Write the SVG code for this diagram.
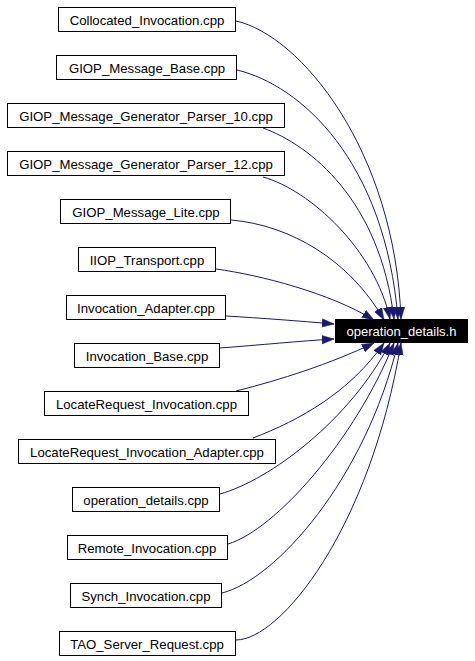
<svg xmlns="http://www.w3.org/2000/svg" width="475" height="661" viewBox="0 0 475 661">
<style>
.n rect{fill:#fff;stroke:#000;stroke-width:1}
.n text{font-family:"Liberation Sans",Arial,sans-serif;font-size:13.2px;text-anchor:middle;fill:#000}
#main rect{fill:#000;stroke:#000}
#main text{fill:#fff;font-family:"Liberation Sans",Arial,sans-serif;font-size:13px;text-anchor:middle}
#edges path{fill:none;stroke:#191970;stroke-width:1;marker-end:url(#arr)}
</style>
<defs>
<marker id="arr" markerUnits="userSpaceOnUse" markerWidth="12" markerHeight="10" viewBox="0 0 12 10" refX="12" refY="5" orient="auto">
<path d="M0,0.8 L12,5 L0,9.2 Z" fill="#191970" stroke="#191970" stroke-width="0.5"/>
</marker>
</defs>
<rect width="475" height="661" fill="#fff"/>
<g id="edges">
<path d="M236,21 C300,35 395,150 401,319"/>
<path d="M237,70 C300,85 385,160 398,319"/>
<path d="M263,128 C310,145 380,200 394,319"/>
<path d="M263,177 C310,190 375,250 390,319"/>
<path d="M231,220 C290,225 350,260 384,320"/>
<path d="M216,269 C260,275 330,293 374,320"/>
<path d="M226,316 C260,318 300,321 334,324"/>
<path d="M220,348 C260,345 300,341 334,339"/>
<path d="M236,391 C280,380 330,364 374,343"/>
<path d="M253,438 C300,420 350,392 384,343"/>
<path d="M220,494 C270,480 350,420 390,343"/>
<path d="M228,544 C275,530 355,440 394,343"/>
<path d="M222,593 C275,580 365,480 398,343"/>
<path d="M236,640 C280,640 370,530 401,343"/>
</g>
<g id="main"><rect x="335.5" y="319.5" width="132" height="23"/><text x="401.5" y="336">operation_details.h</text></g>
<g id="n1" class="n"><rect x="58.5" y="7.5" width="177" height="24"/><text x="147" y="24.5">Collocated_Invocation.cpp</text></g>
<g id="n2" class="n"><rect x="56.5" y="55.5" width="180" height="24"/><text x="147" y="72.5">GIOP_Message_Base.cpp</text></g>
<g id="n3" class="n"><rect x="7.5" y="103.5" width="277" height="24"/><text x="146" y="120.5">GIOP_Message_Generator_Parser_10.cpp</text></g>
<g id="n4" class="n"><rect x="7.5" y="151.5" width="277" height="24"/><text x="146" y="168.5">GIOP_Message_Generator_Parser_12.cpp</text></g>
<g id="n5" class="n"><rect x="60.5" y="199.5" width="170" height="24"/><text x="146" y="216.5">GIOP_Message_Lite.cpp</text></g>
<g id="n6" class="n"><rect x="78.5" y="247.5" width="137" height="24"/><text x="147" y="264.5">IIOP_Transport.cpp</text></g>
<g id="n7" class="n"><rect x="66.5" y="295.5" width="159" height="24"/><text x="146" y="312.5">Invocation_Adapter.cpp</text></g>
<g id="n8" class="n"><rect x="74.5" y="343.5" width="145" height="24"/><text x="147" y="360.5">Invocation_Base.cpp</text></g>
<g id="n9" class="n"><rect x="44.5" y="391.5" width="204" height="24"/><text x="146.5" y="408.5">LocateRequest_Invocation.cpp</text></g>
<g id="n10" class="n"><rect x="18.5" y="439.5" width="257" height="24"/><text x="147" y="456.5">LocateRequest_Invocation_Adapter.cpp</text></g>
<g id="n11" class="n"><rect x="72.5" y="487.5" width="147" height="24"/><text x="146" y="504.5">operation_details.cpp</text></g>
<g id="n12" class="n"><rect x="67.5" y="535.5" width="160" height="24"/><text x="147" y="552.5">Remote_Invocation.cpp</text></g>
<g id="n13" class="n"><rect x="70.5" y="583.5" width="151" height="24"/><text x="146" y="600.5">Synch_Invocation.cpp</text></g>
<g id="n14" class="n"><rect x="59.5" y="631.5" width="176" height="24"/><text x="147" y="648.5">TAO_Server_Request.cpp</text></g>
</svg>
